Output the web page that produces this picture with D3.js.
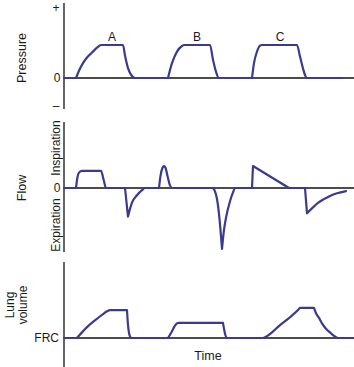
<!DOCTYPE html>
<html>
<head>
<meta charset="utf-8">
<script src="https://cdn.jsdelivr.net/npm/d3@7"></script>
<style>
  body { margin: 0; background: #fff; }
  svg text { font-family: "Liberation Sans", Arial, sans-serif; fill: #1a1a1a; }
</style>
</head>
<body>
<svg id="chart" width="354" height="367"></svg>
<script>
// breath labels and the time they sit above
const breaths = ["A", "B", "C"];
const breathLabelTime = [48, 133, 216];

// traces: [time, value], a new piece starts at each sharp corner
const pressure = [
  [[0, 0], [12, 0]],
  [[12, 0], [15, 0.22], [19, 0.45], [23, 0.62], [28, 0.77], [33, 0.92], [37, 1], [59, 1],
   [61, 0.68], [64, 0.3], [67, 0.1], [71, 0], [104, 0]],
  [[104, 0], [108, 0.45], [113, 0.8], [118, 0.97], [120, 1], [146, 1],
   [149, 0.55], [152, 0.19], [155, 0], [188, 0]],
  [[188, 0], [190, 0.45], [193, 0.8], [196, 0.98], [198, 1], [233, 1],
   [236, 0.65], [239, 0.29], [241, 0.09], [243, 0], [278, 0]]
];

const flow = [
  [[0, 0], [12, 0]],
  [[12, 0], [13.5, 0.5], [15, 0.7], [18, 0.78], [37, 0.78], [39.5, 0.4], [42, 0], [61, 0]],
  [[61, 0], [64, -1.3]],
  [[64, -1.3], [66, -0.95], [68, -0.66], [73, -0.33], [78, -0.1], [81, 0], [95, 0]],
  [[95, 0], [96.5, 0.55], [98.5, 0.92], [100, 1], [101.5, 0.92], [103.5, 0.55], [106, 0.12], [108, 0], [149, 0]],
  [[149, 0], [151, -0.15], [153, -0.5], [155.5, -1.4], [158, -2.77]],
  [[158, -2.77], [160, -1.9], [162, -1.35], [166, -0.6], [169, -0.2], [171, 0], [188, 0]],
  [[188, 0], [189, 1]],
  [[189, 1], [225, 0]],
  [[225, 0], [241, 0]],
  [[241, 0], [243, -1.15]],
  [[243, -1.15], [249, -0.88], [254, -0.68], [259, -0.53], [266, -0.36], [273, -0.24], [282, -0.14]]
];

const volume = [
  [[0, 0], [13, 0]],
  [[13, 0], [23, 0.35], [33, 0.62], [39, 0.77], [43, 0.86], [46, 0.9], [63, 0.9]],
  [[63, 0.9], [63.8, 0.5], [64.8, 0.2], [66, 0.05], [67.5, 0], [104, 0]],
  [[104, 0], [108, 0.22], [111, 0.4], [113, 0.47], [114.5, 0.49], [159, 0.49]],
  [[159, 0.49], [160, 0.3], [161.5, 0.08], [163, 0], [199, 0],
   [203, 0.06], [208, 0.18], [214, 0.36], [226, 0.67], [234, 0.9], [236, 0.97], [250, 0.97]],
  [[250, 0.97], [252, 0.8], [255, 0.65], [258, 0.47], [262, 0.3], [266, 0.18], [270, 0.07], [274, 0], [290, 0]]
];

const W = 354, H = 367;
const traceColor = "#3a3a8e";

const x = d3.scaleLinear().domain([0, 290]).range([64, W]);

const svg = d3.select("#chart");

// panel layout in pixels
const panels = [
  { data: pressure, top: 3, bottom: 109, zero: 78, unit: 33 },
  { data: flow, top: 122, bottom: 252, zero: 188, unit: 22 },
  { data: volume, top: 262, bottom: H, zero: 338, unit: 31 }
];

panels.forEach(p => {
  const y = d3.scaleLinear().domain([0, 1]).range([p.zero, p.zero - p.unit]);
  p.y = y;
  const g = svg.append("g");

  // axes
  g.append("line")
    .attr("x1", x(0)).attr("x2", x(0))
    .attr("y1", p.top).attr("y2", p.bottom)
    .attr("stroke", "#111").attr("stroke-width", 1.3);
  g.append("line")
    .attr("x1", x(0)).attr("x2", W)
    .attr("y1", y(0)).attr("y2", y(0))
    .attr("stroke", "#111").attr("stroke-width", 1.3);

  const line = d3.line()
    .x(d => x(d[0]))
    .y(d => y(d[1]))
    .curve(d3.curveMonotoneX);

  // join the pieces into one path
  const d = p.data.map((piece, i) => {
    const s = line(piece);
    return i === 0 ? s : "L" + s.slice(1);
  }).join("");

  g.append("path")
    .attr("d", d)
    .attr("fill", "none")
    .attr("stroke", traceColor)
    .attr("stroke-width", 2.2)
    .attr("stroke-linejoin", "round")
    .attr("stroke-linecap", "round");
});

function label(txt, px, py, opts = {}) {
  const t = svg.append("text")
    .attr("x", px).attr("y", py)
    .attr("text-anchor", opts.anchor || "middle")
    .attr("dominant-baseline", "central")
    .attr("font-size", opts.size || 12)
    .text(txt);
  if (opts.rotate) t.attr("transform", `rotate(-90, ${px}, ${py})`);
  return t;
}

// pressure panel
const pp = panels[0];
label("Pressure", 22, 58, { rotate: true, size: 12.5 });
label("+", 56, pp.top + 5);
label("0", 57, pp.y(0));
label("\u2013", 56, pp.bottom - 3);
svg.selectAll(".breath")
  .data(breaths)
  .enter().append("text")
    .attr("class", "breath")
    .attr("x", (d, i) => x(breathLabelTime[i]))
    .attr("y", 37)
    .attr("text-anchor", "middle")
    .attr("dominant-baseline", "central")
    .attr("font-size", 12)
    .text(d => d);

// flow panel
const fp = panels[1];
label("Flow", 22, fp.y(0), { rotate: true, size: 12.5 });
label("Inspiration", 56, 148, { rotate: true });
label("Expiration", 56, 225, { rotate: true });
label("0", 57, fp.y(0));

// volume panel
const vp = panels[2];
label("Lung", 10, 305, { rotate: true });
label("volume", 23, 305, { rotate: true });
label("FRC", 59, vp.y(0), { anchor: "end" });
label("Time", 208, 356, { size: 12.5 });
</script>
</body>
</html>
